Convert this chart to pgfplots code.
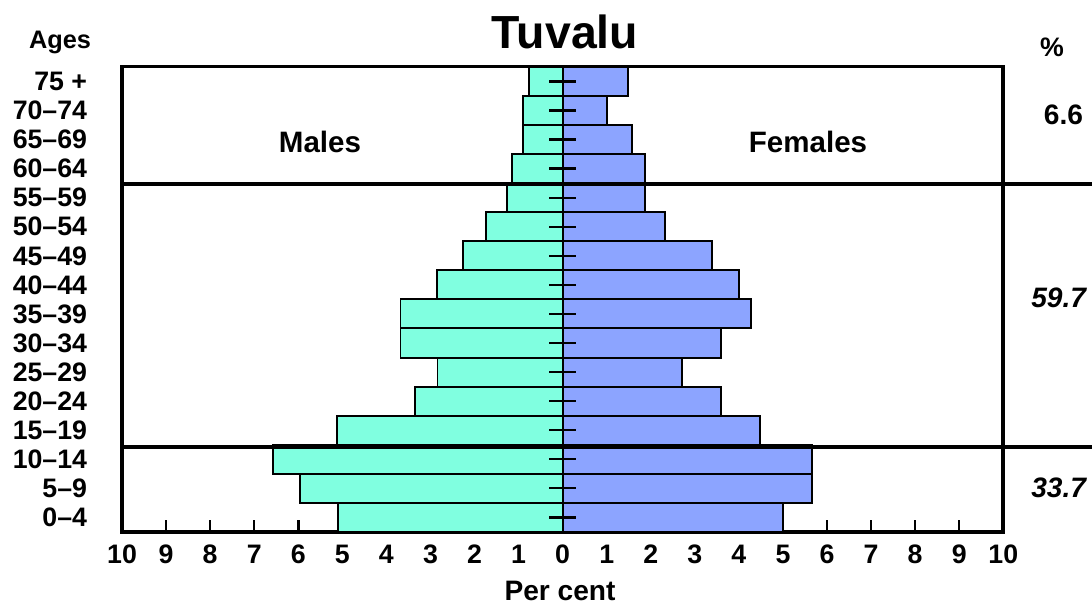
\documentclass[border=0pt]{standalone}
\usepackage{fontspec}
\setmainfont{Liberation Sans}
\usepackage{pgfplots}
\pgfplotsset{compat=1.18}
\definecolor{malec}{RGB}{128,255,224}
\definecolor{femc}{RGB}{140,164,255}
\newcommand{\lab}{\bfseries\fontsize{19}{19}\selectfont}

\begin{document}
\begin{tikzpicture}[x=0.025cm,y=0.025cm]
\useasboundingbox (0,0) rectangle (1092,610);
\begin{axis}[
    at={(3.05cm,1.95cm)}, anchor=south west,
    scale only axis, width=22.025cm, height=11.625cm,
    xmin=-10, xmax=10, ymin=-0.5, ymax=15.5,
    xtick={-10,...,10},
    xticklabels={10,9,8,7,6,5,4,3,2,1,0,1,2,3,4,5,6,7,8,9,10},
    ytick={0,...,15},
    yticklabels={0--4,5--9,10--14,15--19,20--24,25--29,30--34,35--39,40--44,45--49,50--54,55--59,60--64,65--69,70--74,75 +},
    xtick pos=bottom, ytick pos=left,
    tick align=inside, major tick length=0.3cm,
    y tick style={draw=none},
    x tick style={line width=1.8pt, black},
    axis line style={line width=2.2pt},
    ticklabel style={font=\lab},
    /pgf/number format/assume math mode=true,
    xticklabel style={yshift=-0.2cm},
    yticklabel style={xshift=-0.45cm},
    clip=false,
    xbar, bar width=1, bar shift=0pt,
]
\addplot[fill=malec, draw=black, line width=1.4pt] coordinates {
  (-5.09,0) (-5.97,1) (-6.58,2) (-5.13,3) (-3.36,4) (-2.84,5) (-3.68,6) (-3.68,7)
  (-2.86,8) (-2.27,9) (-1.75,10) (-1.27,11) (-1.16,12) (-0.89,13) (-0.89,14) (-0.77,15)};
\addplot[fill=femc, draw=black, line width=1.4pt] coordinates {
  (4.99,0) (5.65,1) (5.65,2) (4.47,3) (3.59,4) (2.70,5) (3.59,6) (4.27,7)
  (4.00,8) (3.38,9) (2.32,10) (1.86,11) (1.86,12) (1.57,13) (1.00,14) (1.48,15)};
\pgfplotsinvokeforeach{0,...,15}{
  \draw[line width=1.6pt] (axis cs:-0.3,#1) -- (axis cs:0.3,#1);
}
\draw[line width=1.6pt] (axis cs:0,-0.5) -- (axis cs:0,15.5);
\draw[line width=3pt] (rel axis cs:1,0) -- (rel axis cs:1,1);
\end{axis}
\draw[line width=2.3pt] (122,426) -- (1092,426);
\draw[line width=2.3pt] (122,163) -- (1092,163);
\node[font=\bfseries\fontsize{33}{33}\selectfont] at (565,578) {Tuvalu};
\node[font=\bfseries\fontsize{18}{18}\selectfont] at (60,568) {Ages};
\node[font=\bfseries\fontsize{19}{19}\selectfont] at (1052,563) {\%};
\node[font=\bfseries\fontsize{20}{20}\selectfont, anchor=east] at (1088,495) {6.6};
\node[font=\bfseries\itshape\fontsize{20}{20}\selectfont, anchor=east] at (1091,312) {59.7};
\node[font=\bfseries\itshape\fontsize{20}{20}\selectfont, anchor=east] at (1091,122) {33.7};
\node[font=\bfseries\fontsize{21}{21}\selectfont] at (320,468) {Males};
\node[font=\bfseries\fontsize{21}{21}\selectfont] at (808,468) {Females};
\node[font=\bfseries\fontsize{20}{20}\selectfont, inner sep=0pt, anchor=south] at (560,9) {Per cent};
\end{tikzpicture}
\end{document}
